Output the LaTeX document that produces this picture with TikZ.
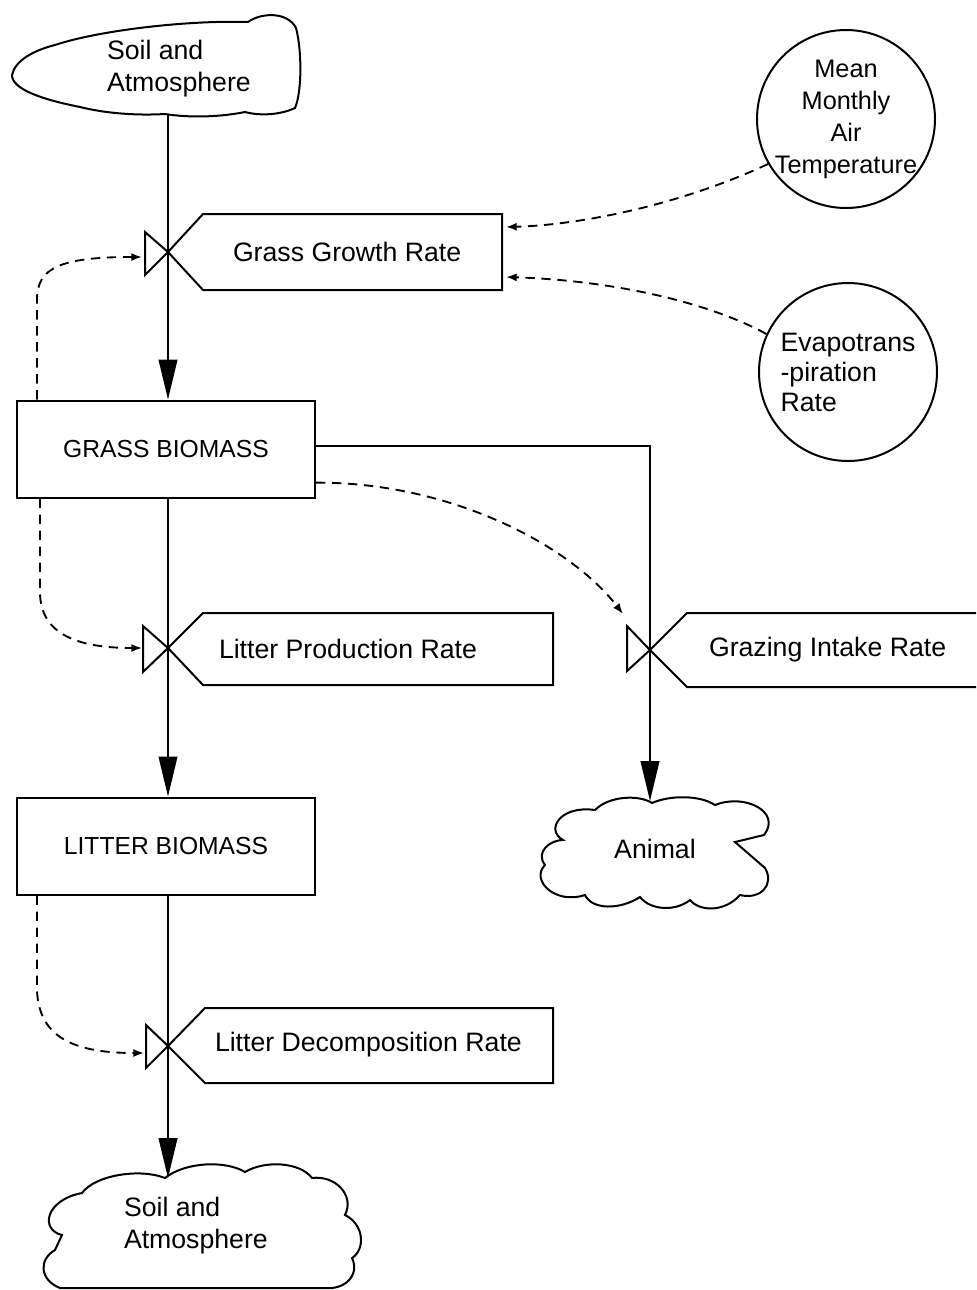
\documentclass[tikz,border=0pt]{standalone}
\usepackage{fontspec}
\setmainfont{Liberation Sans}
\usetikzlibrary{arrows.meta,calc}

\tikzset{every picture/.style={line width=1.5pt}}
\tikzset{
  lbl/.style={inner sep=0.75pt, font=\fontsize{20}{24}\selectfont, align=left},
  stock/.style={draw, minimum width=223.5pt, minimum height=72.75pt, inner sep=0.75pt, font=\fontsize{18.5}{24}\selectfont},
  aux/.style={draw, circle, minimum size=133.5pt, inner sep=0pt},
  flow/.style={-{Triangle[length=30pt,width=14pt]}},
  info/.style={dash pattern=on 7pt off 5pt, line width=1.4pt, -{Latex[length=8pt,width=6pt]}},
}

\begin{document}
\begin{tikzpicture}[x=0.75pt,y=0.75pt,yscale=-1,xscale=1]
\useasboundingbox (0,0) rectangle (976,1290);

%Cloud: Soil and Atmosphere (source)
\draw (12,75) .. controls (15,60) and (35,50) .. (55,45) .. controls (100,30) and (190,20) .. (248,22) .. controls (262,12) and (288,12) .. (296,28) .. controls (302,50) and (302,92) .. (295,108) .. controls (280,115) and (260,116) .. (245,112) .. controls (220,117) and (190,118) .. (165,114) .. controls (130,116) and (100,112) .. (80,107) .. controls (45,100) and (12,90) .. (12,75) -- cycle ;
\coordinate (soiltop) at (168,114);
% Text Node
\node (soil1) [lbl, anchor=west] at (105,69) {Soil and\\Atmosphere};

%Cloud: Animal
\draw (563,840) .. controls (545,830) and (560,805) .. (595,810) .. controls (610,795) and (640,795) .. (652,803) .. controls (670,795) and (700,795) .. (715,805) .. controls (745,793) and (782,812) .. (764,835) -- (735,842) -- (765,868) .. controls (775,885) and (760,900) .. (740,895) .. controls (725,912) and (700,912) .. (690,900) .. controls (675,912) and (650,910) .. (640,897) .. controls (620,910) and (592,910) .. (585,895) .. controls (555,905) and (530,880) .. (545,865) .. controls (535,852) and (550,840) .. (563,840) -- cycle ;
\coordinate (animaltop) at (650,801);
% Text Node
\node (animal) [lbl] at (655,849) {Animal};

%Cloud: Soil and Atmosphere (sink)
\draw (82,1193) .. controls (95,1175) and (140,1168) .. (165,1178) .. controls (185,1162) and (225,1160) .. (245,1172) .. controls (265,1160) and (300,1162) .. (312,1178) .. controls (335,1175) and (355,1195) .. (345,1215) .. controls (365,1225) and (365,1250) .. (352,1258) .. controls (360,1275) and (345,1290) .. (325,1288) -- (60,1288) .. controls (40,1280) and (38,1260) .. (55,1250) -- (62,1235) .. controls (40,1230) and (45,1200) .. (82,1193) -- cycle ;
\coordinate (soilbot) at (168,1178);
% Text Node
\node (soil2) [lbl, anchor=west] at (122,1226) {Soil and\\Atmosphere};

%Auxiliaries
\node (mmat) [aux, inner sep=-10pt, font=\fontsize{19}{24}\selectfont, align=center] at (846,119) {Mean\\Monthly\\Air\\Temperature};
\node (evap) [aux, font=\fontsize{20}{22.5}\selectfont, align=left] at (848,372) {Evapotrans\\-piration\\Rate};

%Levels
\node (grass) [stock] at (166,449) {GRASS BIOMASS};
\node (litter) [stock] at (166,846) {LITTER BIOMASS};

%Valves
\coordinate (vg) at (168,252);
\coordinate (vl) at (168,648);
\coordinate (vz) at (650,650);
\coordinate (vd) at (168,1046);
\draw (vg) -- (145,232) -- (145,275) -- cycle ;
\draw (vg) -- (203,214) -- (502,214) -- (502,290) -- (203,290) -- cycle ;
\draw (vl) -- (143,626) -- (143,672) -- cycle ;
\draw (vl) -- (203,613) -- (553,613) -- (553,685) -- (203,685) -- cycle ;
\draw (vz) -- (627,626) -- (627,671) -- cycle ;
\draw (976,613) -- (687,613) -- (vz) -- (687,687) -- (976,687) ;
\draw (vd) -- (146,1025) -- (146,1068) -- cycle ;
\draw (vd) -- (205,1008) -- (553,1008) -- (553,1083) -- (205,1083) -- cycle ;

% Text Node
\node (ggr) [lbl, anchor=west] at (231,252) {Grass Growth Rate};
% Text Node
\node (lpr) [lbl, anchor=west] at (217,649) {Litter Production Rate};
% Text Node
\node (gir) [lbl, anchor=west] at (707,650) {Grazing Intake Rate};
% Text Node
\node (ldr) [lbl, anchor=west] at (213,1045) {Litter Decomposition Rate};

%Flows
\draw (soiltop) -- (vg) ;
\draw [flow] (vg) -- (vg |- grass.north) ;
\draw (grass.south -| vl) -- (vl) ;
\draw [flow] (vl) -- (vl |- litter.north) ;
\draw (litter.south -| vd) -- (vd) ;
\draw [flow] (vd) -- (soilbot) ;
\draw (grass.east |- 0,446) -| (vz) ;
\draw [flow] (vz) -- (animaltop) ;

%Information links
\coordinate (ggin1) at (506,227);
\coordinate (ggin2) at (506,277);
\draw [info] (mmat.210) .. controls (680,205) and (580,225) .. (ggin1) ;
\draw [info] (evap.155) .. controls (700,298) and (600,280) .. (ggin2) ;
\draw [info] ($(grass.north west)!0.07!(grass.north east)$) -- ++(0,-100) .. controls (37,268) and (60,257) .. (142,257) ;
\draw [info] ($(grass.south west)!0.08!(grass.south east)$) -- ++(0,95) .. controls (41,630) and (70,648) .. (142,648) ;
\draw [info] ($(litter.south west)!0.07!(litter.south east)$) -- ++(0,95) .. controls (39,1035) and (70,1053) .. (144,1053) ;
\draw [info] ($(grass.east)!0.68!(grass.south east)$) .. controls (450,482) and (570,545) .. (623,614) ;

\end{tikzpicture}
\end{document}
